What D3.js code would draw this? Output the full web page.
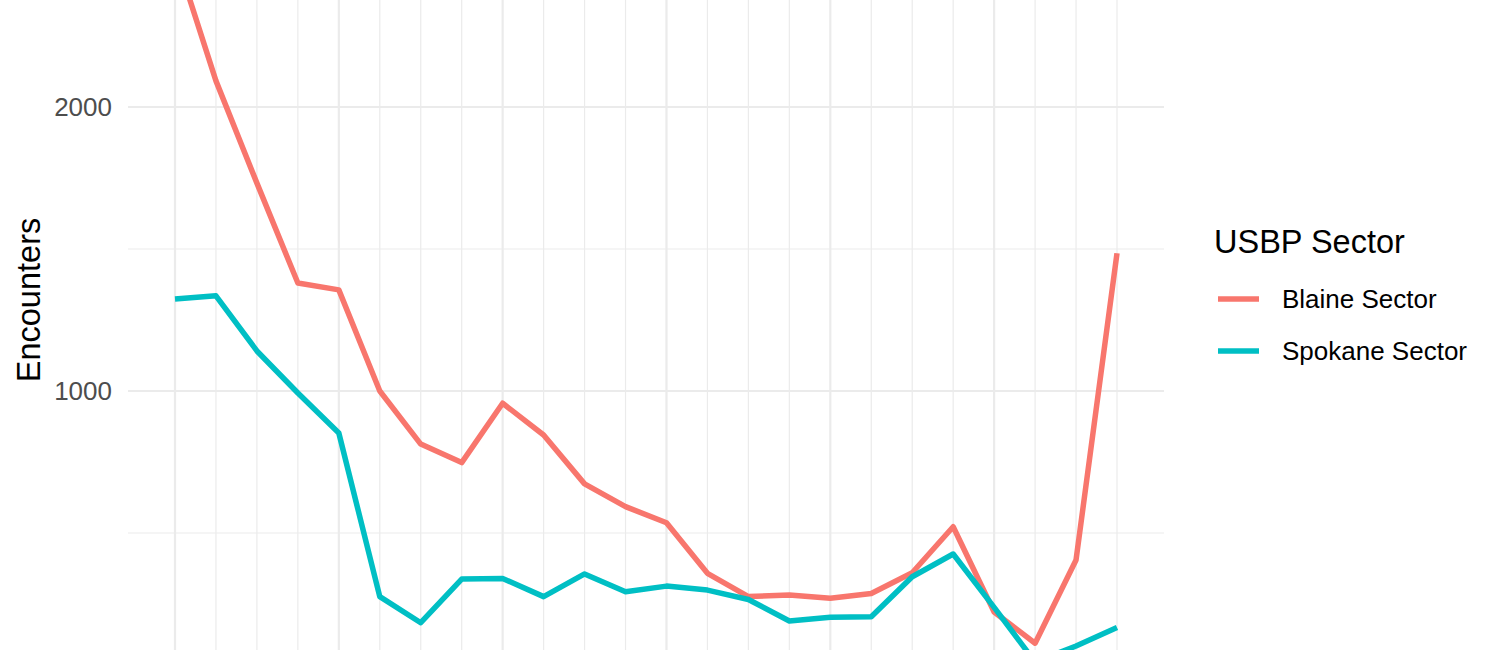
<!DOCTYPE html>
<html>
<head>
<meta charset="utf-8">
<script src="https://cdn.jsdelivr.net/npm/d3@7/dist/d3.min.js"></script>
<style>
  html, body { margin: 0; padding: 0; background: #fff; }
  svg { display: block; font-family: "Liberation Sans", Arial, Helvetica, sans-serif; }
</style>
</head>
<body>
<svg id="chart" width="1500" height="650"></svg>
<script>
// ---- data ----
const months = ["M01","M02","M03","M04","M05","M06","M07","M08","M09","M10","M11","M12",
                "M13","M14","M15","M16","M17","M18","M19","M20","M21","M22","M23","M24"];
const blaine  = [2540, 2092, 1732, 1380, 1356, 1000, 813, 748, 957, 845, 673, 593,
                 536, 358, 276, 282, 270, 287, 360, 522, 222, 112, 405, 1485];
const spokane = [1324, 1335, 1141, 993, 852, 276, 184, 338, 340, 276, 356, 293,
                 313, 299, 266, 190, 203, 205, 346, 426, 238, 46, 102, 167];
const seriesNames = ["Blaine Sector", "Spokane Sector"];
const seriesColors = ["#F8766D", "#00BFC4"];
const yMajorTicks = [0, 1000, 2000];
const yLabelTicks = [1000, 2000];
const yMinorTicks = [500, 1500, 2500];

const svg = d3.select("#chart");
const W = 1500, H = 650;

const panelLeft = 128, panelRight = 1164;
const x = d3.scaleLinear().domain([0, months.length - 1]).range([175, 1117]);
const y = d3.scaleLinear().domain([1000, 2000]).range([391, 107]);

svg.append("defs").append("clipPath").attr("id", "clip")
  .append("rect").attr("x", panelLeft).attr("y", 0).attr("width", panelRight - panelLeft).attr("height", H);

const grid = svg.append("g");
// vertical gridlines at every month, major every 4th
months.forEach((m, i) => {
  grid.append("line")
    .attr("x1", x(i)).attr("x2", x(i))
    .attr("y1", -50).attr("y2", H + 50)
    .attr("stroke", "#EBEBEB")
    .attr("stroke-width", i % 4 === 0 ? 2.2 : 1.2);
});
yMinorTicks.forEach(v => {
  grid.append("line")
    .attr("x1", panelLeft).attr("x2", panelRight)
    .attr("y1", y(v)).attr("y2", y(v))
    .attr("stroke", "#EBEBEB").attr("stroke-width", 1.2);
});
yMajorTicks.forEach(v => {
  grid.append("line")
    .attr("x1", panelLeft).attr("x2", panelRight)
    .attr("y1", y(v)).attr("y2", y(v))
    .attr("stroke", "#EBEBEB").attr("stroke-width", 2.2);
});

// y axis labels
const yAxis = d3.axisLeft(y).tickValues(yLabelTicks).tickSize(0).tickPadding(0).tickFormat(d3.format("d"));
const yg = svg.append("g").attr("transform", `translate(112,0)`).call(yAxis);
yg.select(".domain").remove();
yg.selectAll("text").attr("fill", "#4D4D4D").attr("font-size", 26)
  .attr("font-family", "'Liberation Sans', Arial, sans-serif");

// y axis title
svg.append("text")
  .attr("transform", `translate(40,300) rotate(-90)`)
  .attr("text-anchor", "middle")
  .attr("font-size", 32.5)
  .attr("fill", "#000")
  .text("Encounters");

// lines
const line = d3.line().x((d, i) => x(i)).y(d => y(d));
const plot = svg.append("g").attr("clip-path", "url(#clip)");
[blaine, spokane].forEach((s, k) => {
  plot.append("path")
    .datum(s)
    .attr("d", line)
    .attr("fill", "none")
    .attr("stroke", seriesColors[k])
    .attr("stroke-width", 5.5)
    .attr("stroke-linejoin", "round");
});

// legend
const lg = svg.append("g");
lg.append("text").attr("x", 1214).attr("y", 253).attr("font-size", 32.5).attr("fill", "#000").text("USBP Sector");
seriesNames.forEach((n, k) => {
  const cy = 299 + k * 52;
  lg.append("line").attr("x1", 1218).attr("x2", 1259).attr("y1", cy).attr("y2", cy)
    .attr("stroke", seriesColors[k]).attr("stroke-width", 5.5);
  lg.append("text").attr("x", 1282).attr("y", cy).attr("dy", "0.36em")
    .attr("font-size", 26).attr("fill", "#000").text(n);
});
</script>
</body>
</html>
